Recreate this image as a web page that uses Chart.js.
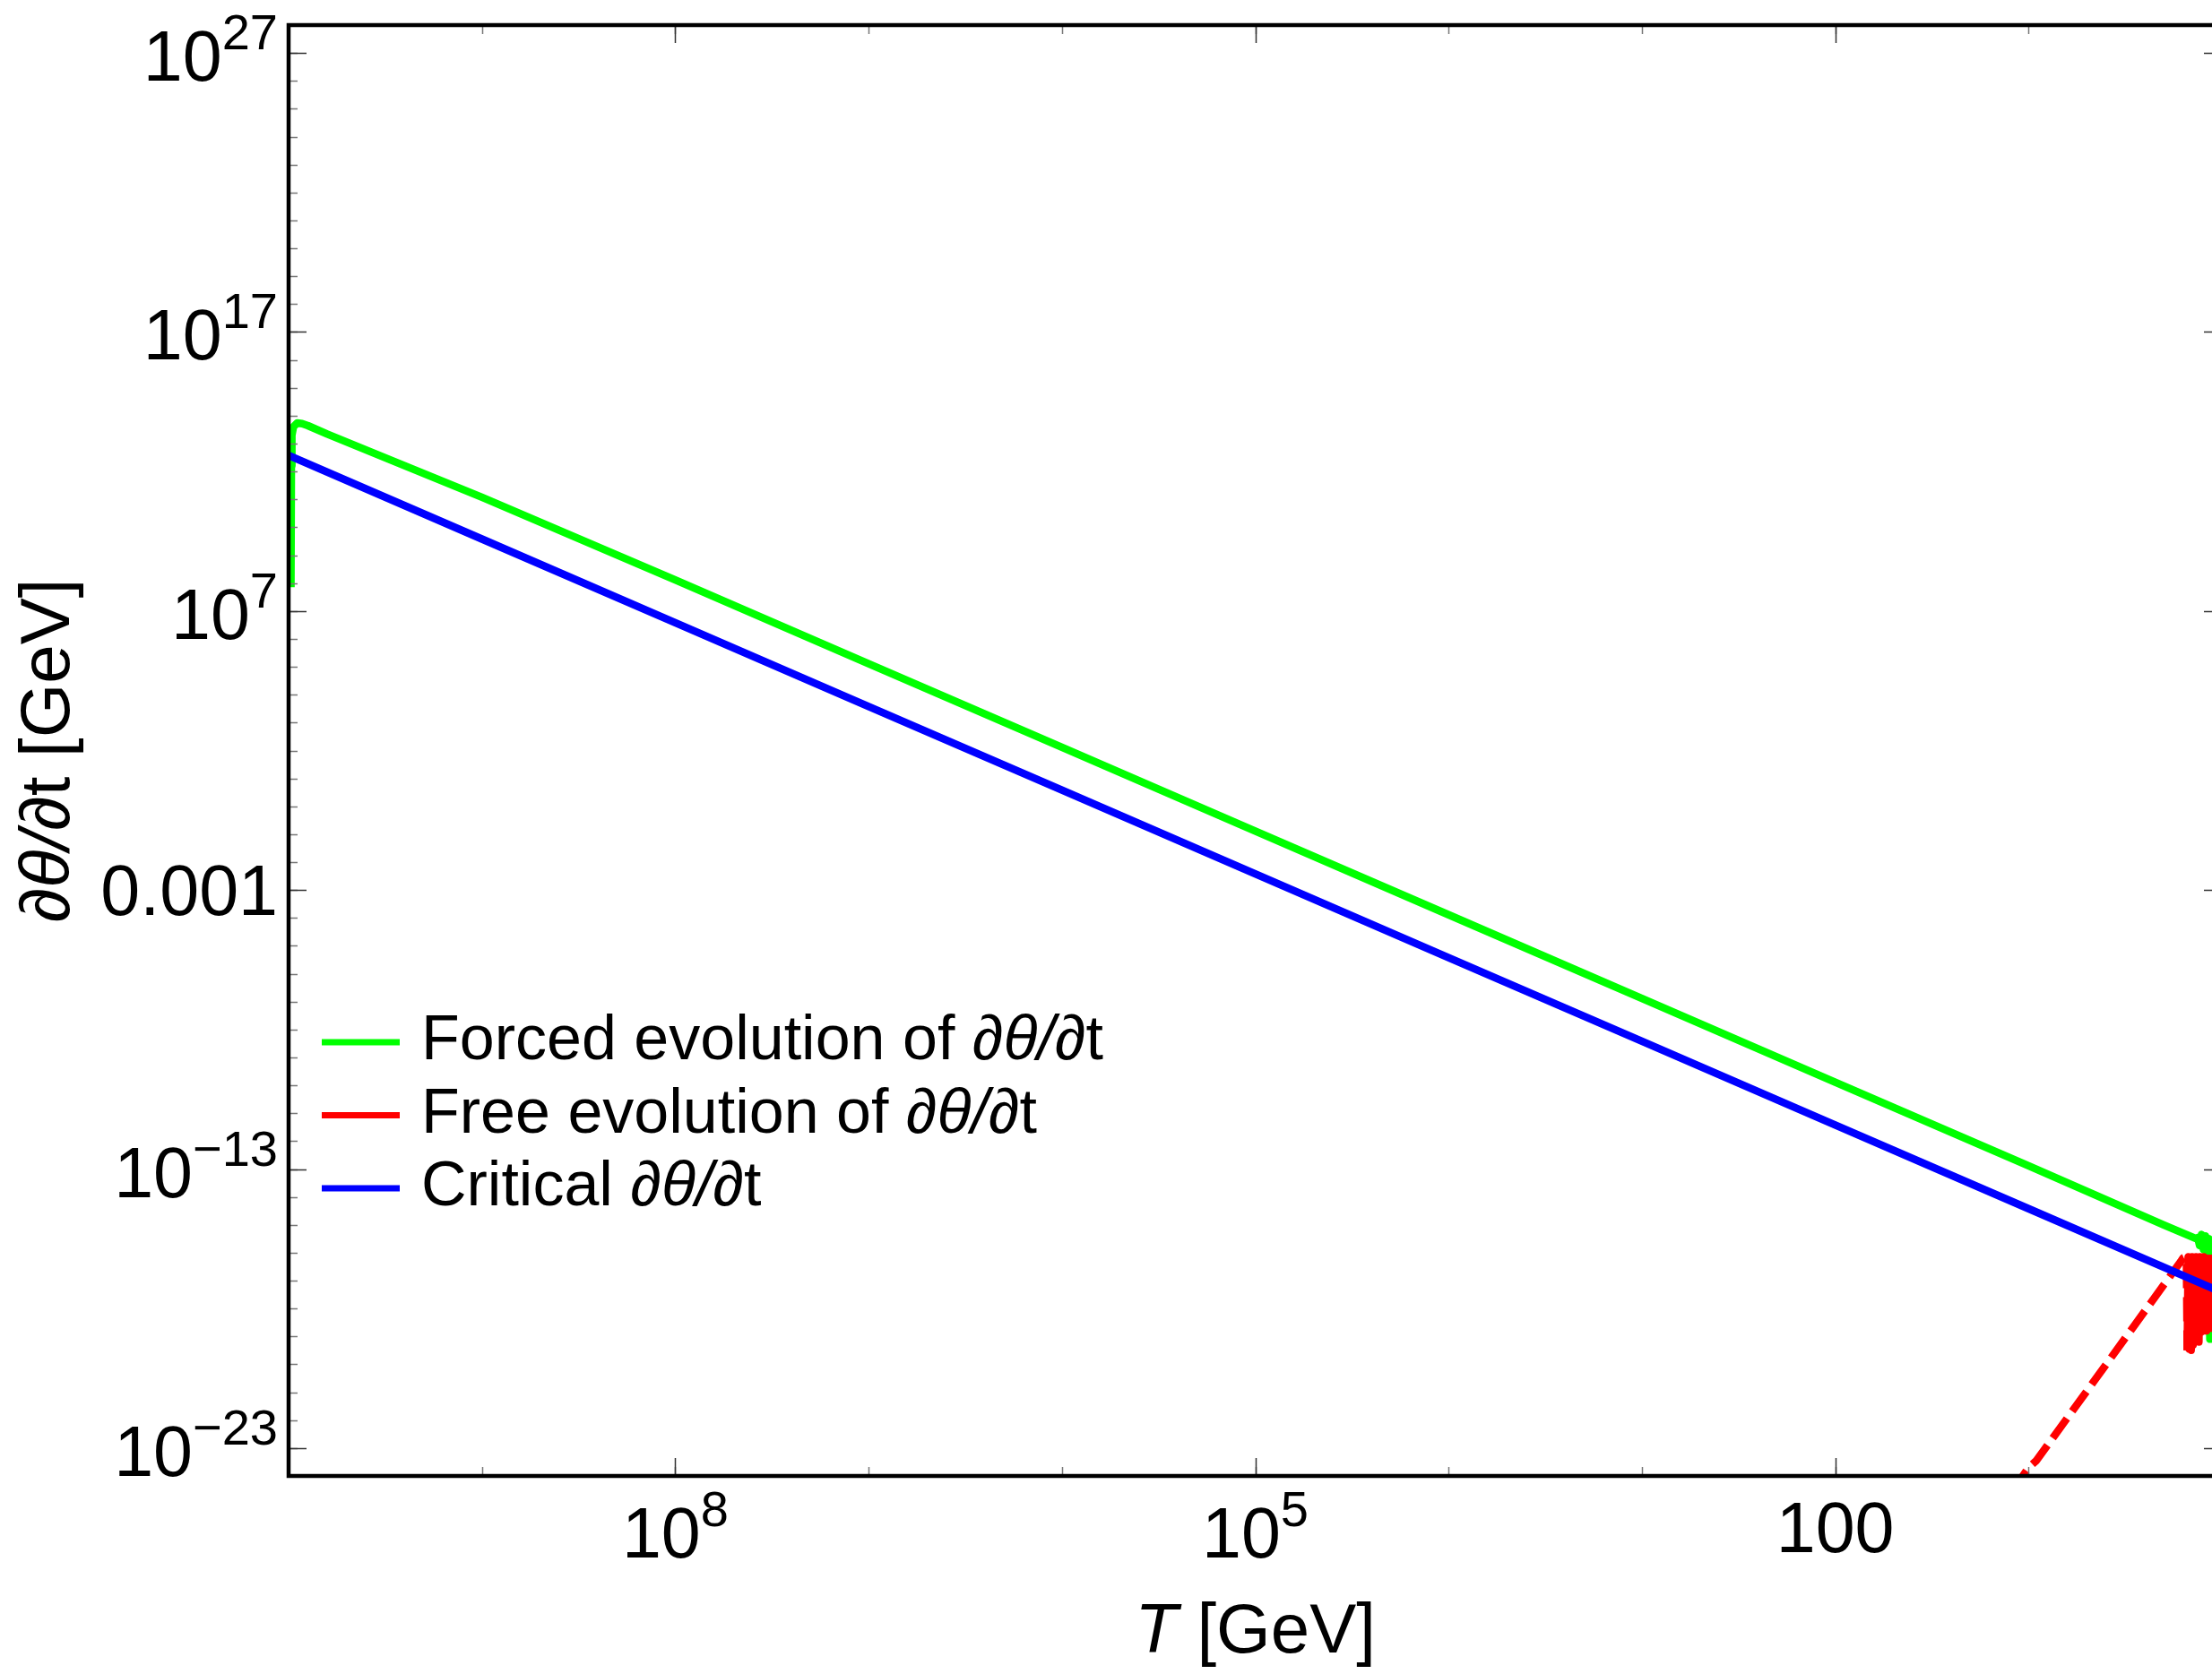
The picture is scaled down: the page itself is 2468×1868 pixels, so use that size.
<!DOCTYPE html>
<html>
<head>
<meta charset="utf-8">
<script src="https://cdn.jsdelivr.net/npm/chart.js@4.4.1/dist/chart.umd.min.js"></script>
<style>
  html, body { margin: 0; padding: 0; overflow: hidden; background: #fff; }
  #wrap { position: relative; width: 2500px; height: 1868px; }
</style>
</head>
<body>
<div id="wrap"><canvas id="plot"></canvas></div>
<script>
/* d(theta)/dt vs T, log-log, T axis reversed */

// forced evolution (green)
var forcedT = [9.73e9, 9.68e9, 9.62e9, 9.44e9, 9.02e9, 8.51e9, 7.94e9, 6.31e9, 3.16e9, 1e9,
               1e8, 1e7, 1e6, 1e5, 1e4, 1e3, 100, 10, 2,
               1.361, 1.334, 1.303, 1.274, 1.245, 1.216, 1.189, 1.169, 1.153, 1.143, 1.122];
var forcedY = [7.2e7, 1.6e12, 2.0e13, 4.0e13, 5.5e13, 5.2e13, 4.4e13, 2.2e13, 3.1e12, 1.2e11,
               1.3e8, 1.3e5, 130, 0.13, 1.3e-4, 1.3e-7, 1.3e-10, 1.3e-13, 1.0e-15,
               3.2e-16, 3.5e-16, 1.8e-16, 4.5e-16, 1.3e-16, 4.0e-16, 1.0e-16, 3.2e-16, 8e-20, 2.5e-16, 2.0e-16];

// free evolution (red): dashed approach, then solid oscillation
var freeT = [11.5, 10.7, 10.0, 9.12, 1.633, 1.585, 1.549, 1.524,
             1.510, 1.493, 1.476, 1.459, 1.442, 1.426, 1.409, 1.393, 1.377, 1.361,
             1.346, 1.330, 1.315, 1.300, 1.285, 1.271, 1.256, 1.242, 1.227, 1.213,
             1.199, 1.186, 1.172, 1.159, 1.146, 1.133, 1.120, 1.107];
var freeY = [2.5e-25, 1e-24, 2e-24, 3.5e-24, 4.8e-17, 6.6e-17, 7.1e-17, 5.6e-17,
             3.2e-20, 7.1e-17, 3.5e-20, 6.3e-17, 3.2e-20, 7.1e-17, 5.0e-20, 6.3e-17, 6.3e-20, 7.1e-17,
             7.1e-20, 6.3e-17, 6.3e-20, 7.1e-17, 1.4e-19, 6.3e-17, 1.6e-19, 7.1e-17, 1.6e-19, 6.3e-17,
             1.6e-19, 6.3e-17, 2.0e-19, 6.3e-17, 2.0e-19, 6.3e-17, 2.0e-19, 5.0e-17];
var freeDashAbove = 1.52;   // dashed while T is above this

// critical (blue)
var critT = [1e10, 1e9, 1e8, 1e7, 1e6, 1e5, 1e4, 1e3, 100, 10, 1];
var critY = [3.8e12, 3.8e9, 3.8e6, 3.8e3, 3.8, 3.8e-3, 3.8e-6, 3.8e-9, 3.8e-12, 3.8e-15, 3.8e-18];

var seriesLabels = ['Forced evolution of ∂θ/∂t', 'Free evolution of ∂θ/∂t', 'Critical ∂θ/∂t'];
var seriesColors = ['#00ff00', '#ff0000', '#0000ff'];

// axes
var xMin = 1, xMax = 1e10;
var yMin = 1e-24, yMax = 1e28;
var xTicks = [1e8, 1e5, 100];
var xTickBase = ['10', '10', '100'];
var xTickSup = ['8', '5', ''];
var yTicks = [1e27, 1e17, 1e7, 1e-3, 1e-13, 1e-23];
var yTickBase = ['10', '10', '10', '0.001', '10', '10'];
var yTickSup = ['27', '17', '7', '', '−13', '−23'];

var FONT = '"Liberation Sans", Arial, sans-serif';

function pts(xs, ys) {
  return xs.map(function (x, i) { return { x: x, y: ys[i] }; });
}

function supLabel(ctx, base, sup, x, y, align) {
  ctx.font = '79px ' + FONT;
  var wb = ctx.measureText(base).width;
  ctx.font = '56px ' + FONT;
  var ws = sup ? ctx.measureText(sup).width : 0;
  var left = align === 'right' ? x - wb - ws : x - (wb + ws) / 2;
  ctx.textAlign = 'left';
  ctx.textBaseline = 'alphabetic';
  ctx.font = '79px ' + FONT;
  ctx.fillText(base, left, y);
  if (sup) {
    ctx.font = '56px ' + FONT;
    ctx.fillText(sup, left + wb, y - 35);
  }
}

// draws "...∂θ/∂t..." with ∂θ/∂ in italic, starting at x; returns end x
function mathText(ctx, text, x, y, size) {
  var parts = text.split('∂θ/∂');
  var pos = x;
  parts.forEach(function (p, i) {
    if (i > 0) {
      ctx.font = 'italic ' + size + 'px ' + FONT;
      ctx.fillText('∂θ/∂', pos, y);
      pos += ctx.measureText('∂θ/∂').width;
    }
    ctx.font = size + 'px ' + FONT;
    ctx.fillText(p, pos, y);
    pos += ctx.measureText(p).width;
  });
  return pos;
}

function mathWidth(ctx, text, size) {
  var parts = text.split('∂θ/∂');
  var w = 0;
  parts.forEach(function (p, i) {
    if (i > 0) { ctx.font = 'italic ' + size + 'px ' + FONT; w += ctx.measureText('∂θ/∂').width; }
    ctx.font = size + 'px ' + FONT; w += ctx.measureText(p).width;
  });
  return w;
}

var framePlugin = {
  id: 'frame',
  afterDatasetsDraw: function (chart) {
    var ctx = chart.ctx, a = chart.chartArea;
    var xs = chart.scales.x, ys = chart.scales.y;
    ctx.save();
    ctx.fillStyle = '#000';

    // minor ticks, every decade
    ctx.lineWidth = 1.5;
    ctx.strokeStyle = '#777';
    ctx.beginPath();
    for (var e = Math.log10(yMin) + 1; e < Math.log10(yMax); e++) {
      var py = Math.round(ys.getPixelForValue(Math.pow(10, e))) + 0.5;
      ctx.moveTo(a.left, py); ctx.lineTo(a.left + 10, py);
      ctx.moveTo(a.right, py); ctx.lineTo(a.right - 10, py);
    }
    for (var k = Math.log10(xMin) + 1; k < Math.log10(xMax); k++) {
      var px = Math.round(xs.getPixelForValue(Math.pow(10, k))) + 0.5;
      ctx.moveTo(px, a.bottom); ctx.lineTo(px, a.bottom - 10);
      ctx.moveTo(px, a.top); ctx.lineTo(px, a.top + 10);
    }
    ctx.stroke();

    // major ticks
    ctx.strokeStyle = '#333';
    ctx.beginPath();
    yTicks.forEach(function (v) {
      var py = Math.round(ys.getPixelForValue(v)) + 0.5;
      ctx.moveTo(a.left, py); ctx.lineTo(a.left + 20, py);
      ctx.moveTo(a.right, py); ctx.lineTo(a.right - 20, py);
    });
    xTicks.forEach(function (v) {
      var px = Math.round(xs.getPixelForValue(v)) + 0.5;
      ctx.moveTo(px, a.bottom); ctx.lineTo(px, a.bottom - 20);
      ctx.moveTo(px, a.top); ctx.lineTo(px, a.top + 20);
    });
    ctx.stroke();

    // frame
    ctx.lineWidth = 4.5;
    ctx.strokeStyle = '#000';
    ctx.strokeRect(a.left, a.top, a.right - a.left, a.bottom - a.top);

    // tick labels
    yTicks.forEach(function (v, i) {
      var py = ys.getPixelForValue(v);
      var sup = yTickSup[i];
      supLabel(ctx, yTickBase[i], sup, a.left - 12, py + 28 + (sup ? 3 : 0), 'right');
    });
    xTicks.forEach(function (v, i) {
      var px = xs.getPixelForValue(v);
      var sup = xTickSup[i];
      supLabel(ctx, xTickBase[i], sup, px, a.bottom + (sup ? 91 : 85), 'center');
    });

    // axis titles
    ctx.textAlign = 'left';
    ctx.textBaseline = 'alphabetic';
    var midX = (a.left + a.right) / 2;
    ctx.font = 'italic 78px ' + FONT;
    var wT = ctx.measureText('T').width;
    ctx.font = '78px ' + FONT;
    var wG = ctx.measureText(' [GeV]').width;
    var x0 = midX - (wT + wG) / 2;
    ctx.font = 'italic 78px ' + FONT;
    ctx.fillText('T', x0, 1844);
    ctx.font = '78px ' + FONT;
    ctx.fillText(' [GeV]', x0 + wT, 1844);

    ctx.save();
    ctx.translate(77, (a.top + a.bottom) / 2);
    ctx.rotate(-Math.PI / 2);
    var yt = '∂θ/∂t [GeV]';
    mathText(ctx, yt, -mathWidth(ctx, yt, 78) / 2, 0, 78);
    ctx.restore();

    // legend
    var lx = a.left + 37, ly = 1163, step = 81.5;
    chart.data.datasets.forEach(function (ds, i) {
      var y = ly + i * step;
      ctx.strokeStyle = ds.borderColor;
      ctx.lineWidth = 7;
      ctx.setLineDash([]);
      ctx.beginPath();
      ctx.moveTo(lx, y); ctx.lineTo(lx + 87, y);
      ctx.stroke();
      ctx.fillStyle = '#000';
      mathText(ctx, ds.label, lx + 111, y + 19, 70);
    });
    ctx.restore();
  }
};

new Chart(document.getElementById('plot'), {
  type: 'line',
  data: {
    datasets: [
      {
        label: seriesLabels[0], data: pts(forcedT, forcedY),
        borderColor: seriesColors[0], borderWidth: 8.5, order: 2
      },
      {
        label: seriesLabels[1], data: pts(freeT, freeY),
        borderColor: seriesColors[1], borderWidth: 8.5, order: 1, borderDash: [],
        segment: {
          borderDash: function (c) { return c.p0.parsed.x > freeDashAbove ? [27, 10] : undefined; }
        }
      },
      {
        label: seriesLabels[2], data: pts(critT, critY),
        borderColor: seriesColors[2], borderWidth: 8.5, order: 0
      }
    ]
  },
  options: {
    responsive: true,
    maintainAspectRatio: false,
    animation: false,
    events: [],
    layout: { padding: { left: 322, top: 28, right: 21, bottom: 221 } },
    elements: {
      point: { radius: 0 },
      line: { tension: 0, fill: false, borderJoinStyle: 'round', borderCapStyle: 'butt' }
    },
    datasets: { line: { clip: 0 } },
    plugins: { legend: { display: false }, tooltip: { enabled: false } },
    scales: {
      x: { type: 'logarithmic', reverse: true, min: xMin, max: xMax, display: false },
      y: { type: 'logarithmic', min: yMin, max: yMax, display: false }
    }
  },
  plugins: [framePlugin]
});
</script>
</body>
</html>
